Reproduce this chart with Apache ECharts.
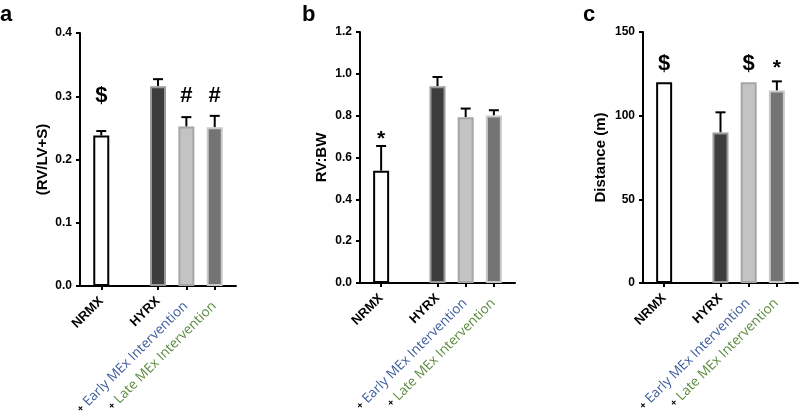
<!DOCTYPE html>
<html><head><meta charset="utf-8">
<script src="https://cdn.jsdelivr.net/npm/echarts@6/dist/echarts.min.js"></script>
<style>html,body{margin:0;padding:0;background:#fff}#chart{width:800px;height:418px}</style>
</head><body><div id="chart"></div>
<script>
// ---- data ----
const groups = ['NRMX', 'HYRX', 'Early MEx Intervention', 'Late MEx Intervention'];
const rvRatio = [0.238, 0.316, 0.252, 0.251];
const rvRatioErr = [0.007, 0.011, 0.015, 0.018];
const rvBw = [0.537, 0.941, 0.792, 0.801];
const rvBwErr = [0.118, 0.044, 0.042, 0.025];
const distance = [120, 90, 120, 115];
const distanceErr = [0, 12, 0, 5.5];
const marksA = ['$', '', '#', '#'];
const markLevelA = [0.3, null, 0.3, 0.3];
const marksB = ['*', '', '', ''];
const markLevelB = [0.705, null, null, null];
const marksC = ['$', '', '$', '*'];
const markLevelC = [131, null, 131, 131];
const yTicksA = [0.0, 0.1, 0.2, 0.3, 0.4];
const yTicksB = [0.0, 0.2, 0.4, 0.6, 0.8, 1.0, 1.2];
const yTicksC = [0, 50, 100, 150];
const yTitles = ['(RV/LV+S)', 'RV:BW', 'Distance (m)'];
const panelLetters = ['a', 'b', 'c'];

// ---- layout / style ----
const slots = [0, 2, 3, 4];
const fills = ['#ffffff', '#3d3d3d', '#c3c3c3', '#747474'];
const borders = ['#000000', '#9a9a9a', '#a6a6a6', '#c9c9c9'];
const FONT = '"Liberation Sans", Arial, sans-serif';
const panels = [
  {left: 80, top: 33, width: 156, height: 253, vals: rvRatio, errs: rvRatioErr, marks: marksA, lv: markLevelA, ticks: yTicksA, dec: 1, gap: 30, letterX: 0},
  {left: 360, top: 32, width: 155, height: 251, vals: rvBw, errs: rvBwErr, marks: marksB, lv: markLevelB, ticks: yTicksB, dec: 1, gap: 31, letterX: 302},
  {left: 643, top: 32, width: 155, height: 251, vals: distance, errs: distanceErr, marks: marksC, lv: markLevelC, ticks: yTicksC, dec: 0, gap: 35, letterX: 583}
];

function labelFor(v) {
  const i = slots.indexOf(Math.round(v));
  if (i === 0 || i === 1) return '{k|' + groups[i] + '}';
  if (i === 2) return '{p|+}{e| ' + groups[i] + '}';
  if (i === 3) return '{p|+}{l| ' + groups[i] + '}';
  return '';
}

const option = {
  animation: false,
  backgroundColor: '#ffffff',
  title: panels.map((p, k) => ({
    text: panelLetters[k], left: p.letterX, top: 4, padding: 0,
    textStyle: {fontFamily: FONT, fontSize: 22, fontWeight: 'bold', color: '#000'}
  })),
  grid: panels.map(p => ({left: p.left, top: p.top, width: p.width, height: p.height, containLabel: false})),
  xAxis: panels.map((p, k) => ({
    type: 'value', gridIndex: k, min: -0.75, max: 4.75,
    splitLine: {show: false},
    axisLine: {show: true, onZero: false, lineStyle: {color: '#000', width: 2}},
    axisTick: {show: true, customValues: slots, length: 4, lineStyle: {color: '#000', width: 2}},
    axisLabel: {
      show: true, customValues: slots, rotate: 45, margin: 13, hideOverlap: false,
      formatter: labelFor,
      rich: {
        k: {fontFamily: FONT, fontWeight: 'bold', fontSize: 13, color: '#000'},
        p: {fontFamily: FONT, fontWeight: 'bold', fontSize: 10, color: '#000', padding: [6, 0, 0, 0]},
        e: {fontFamily: '"Open Sans", sans-serif', fontSize: 13.5, color: '#3f5d9c', padding: [6, 4, 0, 0]},
        l: {fontFamily: '"Open Sans", sans-serif', fontSize: 13.5, color: '#5c8b3e', padding: [6, 4, 0, 0]}
      }
    }
  })),
  yAxis: panels.map((p, k) => ({
    type: 'value', gridIndex: k,
    min: p.ticks[0], max: p.ticks[p.ticks.length - 1], interval: p.ticks[1] - p.ticks[0],
    name: yTitles[k], nameLocation: 'middle', nameGap: p.gap,
    nameTextStyle: {fontFamily: FONT, fontWeight: 'bold', fontSize: 15, color: '#000'},
    splitLine: {show: false},
    axisLine: {show: true, onZero: false, lineStyle: {color: '#000', width: 2}},
    axisTick: {show: true, length: 4, lineStyle: {color: '#000', width: 2}},
    axisLabel: {margin: 8, fontFamily: FONT, fontWeight: 'bold', fontSize: 12, color: '#000',
      formatter: v => v.toFixed(p.dec)}
  })),
  series: []
};

panels.forEach((p, k) => {
  option.series.push({
    type: 'bar', xAxisIndex: k, yAxisIndex: k, barWidth: 16, z: 3,
    data: p.vals.map((v, i) => ({value: [slots[i], v],
      itemStyle: {color: fills[i], borderColor: borders[i], borderWidth: 2}}))
  });
  option.series.push({
    type: 'custom', xAxisIndex: k, yAxisIndex: k, z: 2,
    data: p.vals.map((v, i) => [slots[i], v, p.errs[i]]),
    renderItem: (params, api) => {
      const x = api.value(0), v = api.value(1), e = api.value(2);
      if (!e) return null;
      const a = api.coord([x, v]), b = api.coord([x, v + e]);
      return {type: 'group', children: [
        {type: 'line', shape: {x1: a[0], y1: a[1], x2: b[0], y2: b[1]}, style: {stroke: '#000', lineWidth: 2}},
        {type: 'line', shape: {x1: b[0] - 5, y1: b[1], x2: b[0] + 5, y2: b[1]}, style: {stroke: '#000', lineWidth: 2}}
      ]};
    }
  });
  option.series.push({
    type: 'custom', xAxisIndex: k, yAxisIndex: k, z: 4,
    data: p.marks.map((m, i) => [slots[i], p.lv[i] == null ? 0 : p.lv[i], i]),
    renderItem: (params, api) => {
      const i = api.value(2);
      const m = p.marks[i];
      if (!m) return null;
      const c = api.coord([api.value(0), api.value(1)]);
      const isStar = m === '*';
      return {type: 'text', x: c[0], y: c[1] + (isStar ? 4 : 0),
        style: {text: m, align: 'center', verticalAlign: 'middle',
          font: 'bold ' + (isStar ? 21 : 22) + 'px ' + FONT, fill: '#000'}};
    }
  });
});

const chart = echarts.init(document.getElementById('chart'), null, {renderer: 'canvas'});
chart.setOption(option);
</script>
</body></html>
